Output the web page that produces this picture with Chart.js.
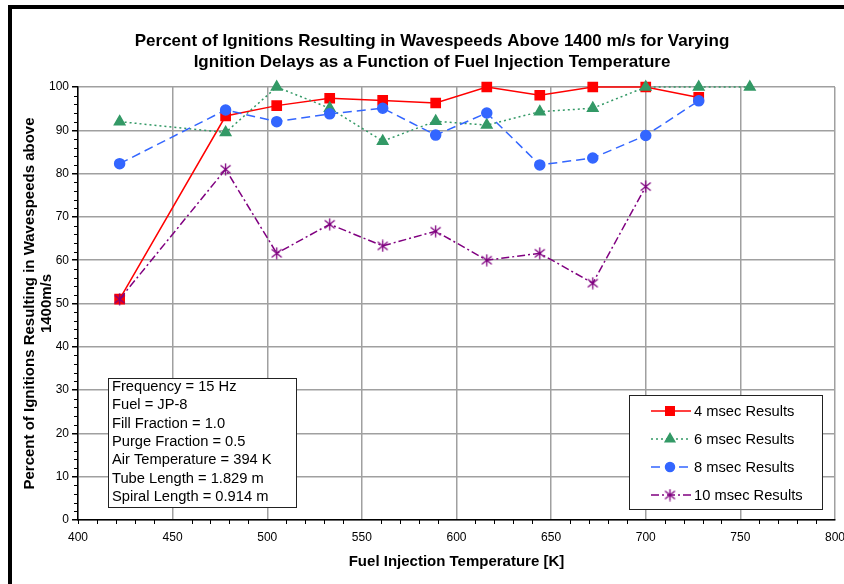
<!DOCTYPE html>
<html>
<head>
<meta charset="utf-8">
<script src="https://cdn.jsdelivr.net/npm/chart.js@4.4.1/dist/chart.umd.min.js"></script>
<style>
  html, body { margin: 0; padding: 0; background: #fff; }
</style>
</head>
<body>
<canvas id="myChart" width="844" height="584"></canvas>
<script>
// fuel injection temperatures [K]
const temps = [422, 478, 505, 533, 561, 589, 616, 644, 672, 700, 728, 755]
// percent of ignitions above 1400 m/s, per ignition delay
const sec4 = [51.0, 93.3, 95.7, 97.4, 96.9, 96.3, 100, 98.1, 100, 100, 97.6, null]
const sec6 = [92.0, 89.5, 100, 95.1, 87.5, 92.1, 91.2, 94.3, 95.1, 100, 100, 100]
const sec8 = [82.3, 94.7, 92.0, 93.8, 95.1, 88.9, 94.0, 82.0, 83.6, 88.8, 96.8, null]
const sec10 = [51.0, 81.0, 61.6, 68.3, 63.3, 66.7, 60.0, 61.6, 54.7, 77.0, null, null]

const seriesLabels = ['4 msec Results', '6 msec Results', '8 msec Results', '10 msec Results']
const titleLines = [
  'Percent of Ignitions Resulting in Wavespeeds Above 1400 m/s for Varying',
  'Ignition Delays as a Function of Fuel Injection Temperature'
]
const noteLines = [
  'Frequency = 15 Hz',
  'Fuel = JP-8',
  'Fill Fraction = 1.0',
  'Purge Fraction = 0.5',
  'Air Temperature = 394 K',
  'Tube Length = 1.829 m',
  'Spiral Length = 0.914 m'
]

Chart.defaults.font.family = "'Liberation Sans', Arial, sans-serif"
Chart.defaults.color = '#000'

const toXY = arr => temps
  .map((t, i) => ({ x: t, y: arr[i] }))
  .filter(d => d.y !== null)

// asterisk marker like the excel one
const star = document.createElement('canvas')
star.width = 13
star.height = 13
const sc = star.getContext('2d')
sc.strokeStyle = '#800080'
sc.lineWidth = 1.3
sc.beginPath()
sc.moveTo(1.5, 2.5); sc.lineTo(11.5, 10.5)
sc.moveTo(11.5, 2.5); sc.lineTo(1.5, 10.5)
sc.moveTo(6.5, 0.5); sc.lineTo(6.5, 12.5)
sc.stroke()

const decor = {
  id: 'decor',
  afterDraw(chart) {
    const c = chart.ctx
    const xs = chart.scales.x
    const ys = chart.scales.y
    c.save()

    // frame on left and top
    c.fillStyle = '#000'
    c.fillRect(8, 5, 4, 579)
    c.fillRect(8, 5, 836, 4)

    // title
    c.font = "bold 17px 'Liberation Sans', Arial, sans-serif"
    c.textAlign = 'center'
    c.textBaseline = 'middle'
    c.fillText(titleLines[0], 432, 41)
    c.fillText(titleLines[1], 432, 62)

    // minor ticks
    c.strokeStyle = '#000'
    c.lineWidth = 1
    c.beginPath()
    for (let v = 0; v <= 100; v += 2) {
      if (v % 10 === 0) continue
      const py = Math.round(ys.getPixelForValue(v)) + 0.5
      c.moveTo(xs.left - 4, py)
      c.lineTo(xs.left, py)
    }
    for (let v = 400; v <= 800; v += 10) {
      if (v % 50 === 0 && v !== 400) continue
      const px = Math.round(xs.getPixelForValue(v)) + 0.5
      c.moveTo(px, ys.bottom)
      c.lineTo(px, ys.bottom + 4)
    }
    c.stroke()

    // note box
    c.fillStyle = '#fff'
    c.fillRect(108, 378, 188, 129)
    c.strokeStyle = '#222'
    c.lineWidth = 1
    c.strokeRect(108.5, 378.5, 188, 129)
    c.fillStyle = '#000'
    c.font = "14.7px 'Liberation Sans', Arial, sans-serif"
    c.textAlign = 'left'
    noteLines.forEach((t, i) => c.fillText(t, 112, 387 + i * 18.3))

    // legend box
    c.fillStyle = '#fff'
    c.fillRect(629, 395, 193, 114)
    c.strokeStyle = '#222'
    c.strokeRect(629.5, 395.5, 193, 114)
    chart.data.datasets.forEach((ds, i) => {
      const y = 411 + i * 28
      c.save()
      c.strokeStyle = ds.borderColor
      c.lineWidth = ds.borderWidth
      c.setLineDash(ds.borderDash || [])
      c.beginPath()
      c.moveTo(651, y)
      c.lineTo(691, y)
      c.stroke()
      c.setLineDash([])
      c.fillStyle = ds.pointBackgroundColor
      c.strokeStyle = ds.pointBorderColor
      Chart.helpers.drawPoint(c, {
        pointStyle: ds.pointStyle,
        radius: ds.pointRadius - 0.5,
        rotation: 0,
        borderWidth: 1
      }, 670, y)
      c.restore()
      c.fillStyle = '#000'
      c.fillText(ds.label, 694, y + 1)
    })
    c.restore()
  }
}

const ctx = document.getElementById('myChart')
const myChart = new Chart(ctx, {
  type: 'line',
  data: {
    datasets: [
      {
        label: seriesLabels[0],
        data: toXY(sec4),
        borderColor: '#ff0000',
        borderWidth: 1.5,
        pointStyle: 'rect',
        pointRadius: 6.5,
        pointBackgroundColor: '#ff0000',
        pointBorderColor: '#ff0000',
        order: 4
      },
      {
        label: seriesLabels[1],
        data: toXY(sec6),
        borderColor: '#339966',
        borderWidth: 1.5,
        borderDash: [2, 3],
        pointStyle: 'triangle',
        pointRadius: 6,
        pointBackgroundColor: '#339966',
        pointBorderColor: '#339966',
        order: 3
      },
      {
        label: seriesLabels[2],
        data: toXY(sec8),
        borderColor: '#3366ff',
        borderWidth: 1.5,
        borderDash: [9, 5],
        pointStyle: 'circle',
        pointRadius: 5,
        pointBackgroundColor: '#3366ff',
        pointBorderColor: '#3366ff',
        order: 2
      },
      {
        label: seriesLabels[3],
        data: toXY(sec10),
        borderColor: '#800080',
        borderWidth: 1.5,
        borderDash: [8, 3, 2, 3],
        pointStyle: star,
        pointRadius: 6,
        pointBackgroundColor: '#800080',
        pointBorderColor: '#800080',
        order: 1
      }
    ]
  },
  options: {
    responsive: false,
    animation: false,
    clip: false,
    layout: { padding: { left: 0, right: 9, top: 87, bottom: 0 } },
    plugins: {
      legend: { display: false },
      title: { display: false },
      tooltip: { enabled: false }
    },
    scales: {
      x: {
        type: 'linear',
        min: 400,
        max: 800,
        ticks: { stepSize: 50, font: { size: 12 }, color: '#000', padding: 10 },
        grid: { color: '#a0a0a0', lineWidth: 1.5, drawTicks: false },
        border: { color: '#000', width: 1.5 },
        title: {
          display: true,
          text: 'Fuel Injection Temperature [K]',
          font: { size: 15, weight: 'bold', lineHeight: 1.2 },
          padding: { top: 0, bottom: 13 }
        },
        afterFit: s => {
          s.height = 64
          s.paddingLeft = 0
          s.paddingRight = 0
        }
      },
      y: {
        min: 0,
        max: 100,
        ticks: { stepSize: 10, font: { size: 12 }, color: '#000', padding: 3 },
        grid: { color: '#a0a0a0', lineWidth: 1.5, tickLength: 6, tickColor: '#000' },
        border: { color: '#000', width: 1.5 },
        title: {
          display: true,
          text: ['Percent of Ignitions Resulting in Wavespeeds above', '1400m/s'],
          font: { size: 15, weight: 'bold', lineHeight: 1.15 },
          padding: { top: 21.4, bottom: 0 }
        },
        afterFit: s => {
          s.width = 78
          s.paddingTop = 0
          s.paddingBottom = 0
        }
      }
    }
  },
  plugins: [decor]
})
</script>
</body>
</html>
